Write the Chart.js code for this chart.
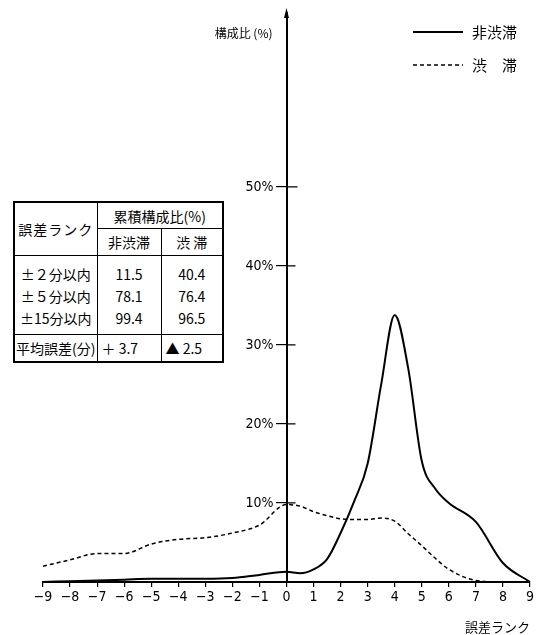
<!DOCTYPE html>
<html lang="ja">
<head>
<meta charset="utf-8">
<title>誤差ランク別構成比</title>
<script src="https://cdn.jsdelivr.net/npm/chart.js@4.4.1/dist/chart.umd.min.js"></script>
<style>
  html, body { margin: 0; padding: 0; background: #fff; }
  #wrap { position: relative; width: 540px; height: 635px; }
  #chart { position: absolute; left: 0; top: 0; }
  #tbl {
    position: absolute; left: 13px; top: 201px;
    width: 209px; table-layout: fixed;
    border-collapse: collapse; background: #fff; color: #000;
    font-family: "Noto Sans CJK JP", "Noto Sans", sans-serif; font-size: 14px;
    border: 2px solid #000;
  }
  #tbl td { padding: 0; text-align: center; border-left: 1.5px solid #000; border-right: 1.5px solid #000; line-height: 22px; white-space: nowrap; }
  #tbl .h1 td { height: 25px; }
  #tbl .h2 td { height: 26px; border-bottom: 1.5px solid #000; }
  #tbl td.sum { border-bottom: 1.5px solid #000; }
  #tbl td.rank { border-bottom: 1.5px solid #000; letter-spacing: 1px; }
  #tbl .b0 td { height: 22px; padding-top: 7px; }
  #tbl .b1 td { height: 22px; }
  #tbl .b2 td { height: 22px; padding-bottom: 5px; border-bottom: 1.5px solid #000; }
  #tbl .avg td { height: 26px; }
  #tbl .avg td.v { text-align: left; padding-left: 4px; }
</style>
</head>
<body>
<div id="wrap">
  <canvas id="chart" width="540" height="635"></canvas>
  <table id="tbl">
    <colgroup><col style="width:83px"><col style="width:64px"><col style="width:62px"></colgroup>
    <tbody id="tblBody"></tbody>
  </table>
</div>
<script>
// 誤差ランク (x) と構成比 (%)
const ranks = [-9, -8, -7, -6, -5, -4, -3, -2, -1, 0, 0.5, 1, 1.5, 2, 2.5, 3, 3.5, 4, 4.5, 5, 5.5, 6, 7, 8, 9];
const nonCongested = [0, 0.1, 0.2, 0.3, 0.4, 0.4, 0.4, 0.5, 0.9, 1.3, 1.1, 1.6, 2.9, 6.2, 10.2, 15.0, 25.0, 33.8, 27.0, 15.3, 11.8, 10.0, 7.6, 2.4, 0];
const congested = [2.0, 2.8, 3.6, 3.6, 4.8, 5.4, 5.6, 6.2, 7.2, 9.8, 9.6, 8.9, 8.4, 8.0, 7.9, 7.9, 8.1, 7.7, 6.1, 4.6, 3.0, 1.6, 0.2, 0, 0];

const seriesLabels = ['非渋滞', '渋滞'];
const legendLabels = ['非渋滞', '渋　滞'];
const yTickValues = [10, 20, 30, 40, 50];
const yTitle = '構成比 (%)';
const xTitle = '誤差ランク';

// 表のデータ
const tableTitle = '累積構成比(%)';
const tableRankHeader = '誤差ランク';
const tableRanges = ['±２分以内', '±５分以内', '±15分以内'];
const cumNonCongested = ['11.5', '78.1', '99.4'];
const cumCongested = ['40.4', '76.4', '96.5'];
const meanErrorLabel = '平均誤差(分)';
const meanError = ['＋ 3.7', '▲ 2.5'];

// 表を組み立てる
const tb = document.getElementById('tblBody');
tb.innerHTML =
  '<tr class="h1"><td rowspan="2" class="rank">' + tableRankHeader + '</td><td colspan="2" class="sum">' + tableTitle + '</td></tr>' +
  '<tr class="h2"><td>' + seriesLabels[0] + '</td><td>' + '渋 滞' + '</td></tr>' +
  tableRanges.map((r, i) => '<tr class="b' + i + '"><td>' + r + '</td><td>' + cumNonCongested[i] + '</td><td>' + cumCongested[i] + '</td></tr>').join('') +
  '<tr class="avg"><td>' + meanErrorLabel + '</td><td class="v">' + meanError[0] + '</td><td class="v">' + meanError[1] + '</td></tr>';

const numFont = "'Liberation Sans Narrow', 'DejaVu Sans Condensed', 'Liberation Sans', sans-serif";
const jpFont = "'Noto Sans CJK JP', 'Noto Sans', sans-serif";
const yLabel = v => v + '%';

// 軸の補助（目盛ラベル、目盛の右側と矢印）、凡例、縦軸タイトル
const axisExtras = {
  id: 'axisExtras',
  afterDraw(chart) {
    const ctx = chart.ctx;
    const xs = chart.scales.x, ys = chart.scales.y;
    const ax = xs.getPixelForValue(0);
    ctx.save();
    ctx.strokeStyle = '#000';
    ctx.fillStyle = '#000';
    ctx.lineWidth = 1.2;
    ctx.font = '14px ' + numFont;
    ctx.textAlign = 'right';
    ctx.textBaseline = 'middle';
    ctx.beginPath();
    ys.ticks.forEach(t => {
      const py = ys.getPixelForValue(t.value);
      ctx.moveTo(ax, py);
      ctx.lineTo(ax + (t.value === 50 ? 11 : 9), py);
      ctx.fillText(yLabel(t.value), ax - 13, py);
    });
    ctx.stroke();
    // 矢印
    const top = chart.chartArea.top;
    ctx.beginPath();
    ctx.moveTo(ax, top - 5);
    ctx.lineTo(ax - 2.5, top + 5);
    ctx.lineTo(ax + 2.5, top + 5);
    ctx.closePath();
    ctx.fill();

    // 縦軸タイトル
    ctx.font = '12px ' + jpFont;
    ctx.fillText(yTitle, ax - 14, 33);

    // 凡例
    ctx.font = '15px ' + jpFont;
    ctx.textAlign = 'left';
    chart.data.datasets.forEach((ds, i) => {
      const ly = 32 + i * 33;
      ctx.save();
      ctx.lineWidth = ds.borderWidth;
      ctx.strokeStyle = ds.borderColor;
      ctx.setLineDash(ds.borderDash || []);
      ctx.beginPath();
      ctx.moveTo(413, ly);
      ctx.lineTo(463, ly);
      ctx.stroke();
      ctx.restore();
      ctx.fillText(legendLabels[i], 472, ly);
    });
    ctx.restore();
  }
};

const ctx = document.getElementById('chart').getContext('2d');
const myChart = new Chart(ctx, {
  type: 'line',
  data: {
    datasets: [{
      label: seriesLabels[0],
      data: ranks.map((r, i) => ({ x: r, y: nonCongested[i] })),
      borderColor: '#000',
      borderWidth: 2,
      pointRadius: 0,
      tension: 0.4,
      cubicInterpolationMode: 'monotone',
      fill: false
    }, {
      label: seriesLabels[1],
      data: ranks.map((r, i) => ({ x: r, y: congested[i] })),
      borderColor: '#000',
      borderWidth: 1.5,
      borderDash: [4, 3],
      pointRadius: 0,
      tension: 0.4,
      cubicInterpolationMode: 'monotone',
      fill: false
    }]
  },
  options: {
    responsive: false,
    animation: false,
    layout: { padding: { left: 43, right: 10, top: 13, bottom: 0 } },
    plugins: {
      legend: { display: false },
      tooltip: { enabled: false }
    },
    scales: {
      x: {
        type: 'linear',
        min: -9,
        max: 9,
        afterFit: s => { s.height = 53; },
        ticks: {
          stepSize: 1,
          padding: 2,
          color: '#000',
          font: { family: numFont, size: 14 },
          callback: v => (v < 0 ? '\u2212' + Math.abs(v) : String(v))
        },
        grid: { drawOnChartArea: false, drawTicks: true, tickLength: 5, color: '#000', lineWidth: 1.2 },
        border: { color: '#000', width: 2 },
        title: {
          display: true,
          text: xTitle,
          align: 'end',
          color: '#000',
          font: { family: jpFont, size: 13 },
          padding: { top: 0, bottom: 0 }
        }
      },
      y: {
        type: 'linear',
        min: 0,
        max: 72,
        position: { x: 0 },
        afterFit: s => { s.width = 0; },
        afterBuildTicks: s => { s.ticks = yTickValues.map(v => ({ value: v })); },
        ticks: { display: false },
        grid: { drawOnChartArea: false, drawTicks: true, tickLength: 10, color: '#000', lineWidth: 1.2 },
        border: { color: '#000', width: 2 }
      }
    }
  },
  plugins: [axisExtras]
});
</script>
</body>
</html>
